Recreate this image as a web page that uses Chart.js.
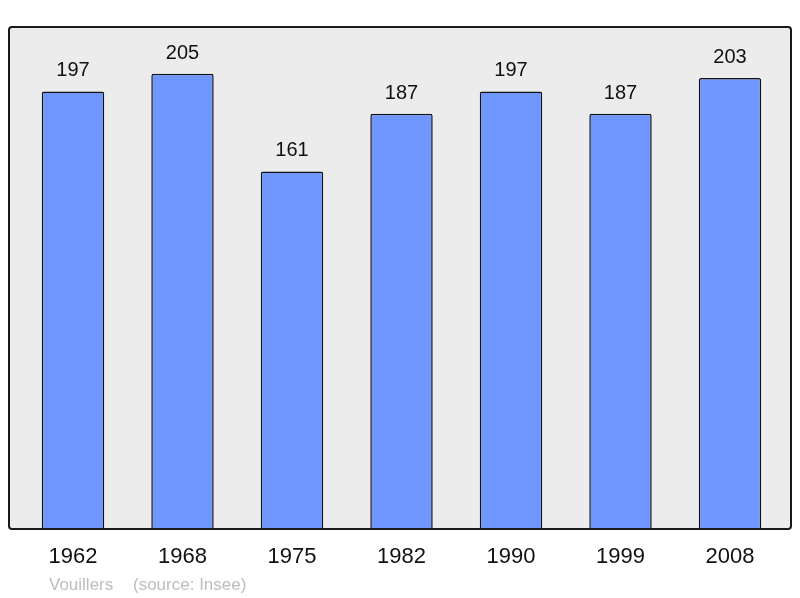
<!DOCTYPE html>
<html>
<head>
<meta charset="utf-8">
<script src="https://cdn.jsdelivr.net/npm/chart.js@4.4.1/dist/chart.umd.min.js"></script>
<style>
  html, body { margin: 0; padding: 0; background: #fff; }
  #wrap { width: 800px; height: 598px; }
</style>
</head>
<body>
<div id="wrap"><canvas id="popChart" width="800" height="598"></canvas></div>
<script>
// data
var years = ["1962", "1968", "1975", "1982", "1990", "1999", "2008"];
var population = [197, 205, 161, 187, 197, 187, 203];
var yMax = 226;
var footerName = "Vouillers";
var footerSource = "(source: Insee)";

// grey frame behind the bars + value labels + footer
var framePlugin = {
    id: 'frame',
    beforeDatasetsDraw: function (chart) {
        var a = chart.chartArea, ctx = chart.ctx;
        ctx.save();
        ctx.fillStyle = '#ececec';
        ctx.beginPath();
        ctx.roundRect(a.left - 9.25, a.top, a.right - a.left + 15.5, a.bottom - a.top, 3);
        ctx.fill();
        ctx.restore();
    },
    afterDatasetsDraw: function (chart) {
        var a = chart.chartArea, ctx = chart.ctx;
        ctx.save();
        ctx.strokeStyle = '#1a1a1a';
        ctx.lineWidth = 2;
        ctx.beginPath();
        ctx.roundRect(a.left - 9.25, a.top, a.right - a.left + 15.5, a.bottom - a.top, 3);
        ctx.stroke();

        // values above bars
        ctx.fillStyle = '#111';
        ctx.font = '20px "Liberation Sans", Arial, sans-serif';
        ctx.textAlign = 'center';
        ctx.textBaseline = 'alphabetic';
        chart.getDatasetMeta(0).data.forEach(function (bar, i) {
            ctx.fillText(String(population[i]), bar.x, bar.y - 15);
        });

        // footer
        ctx.fillStyle = '#bdbdbd';
        ctx.font = '17px "Liberation Sans", Arial, sans-serif';
        ctx.textAlign = 'left';
        ctx.fillText(footerName, 49, 590);
        ctx.fillText(footerSource, 133, 590);
        ctx.restore();
    }
};

var ctx = document.getElementById('popChart').getContext('2d');
var popChart = new Chart(ctx, {
    type: 'bar',
    data: {
        labels: years,
        datasets: [{
            data: population,
            backgroundColor: '#7096ff',
            borderColor: '#111',
            borderWidth: 1.5,
            borderRadius: 2,
            borderSkipped: 'start',
            barPercentage: 1,
            categoryPercentage: 0.57
        }]
    },
    options: {
        responsive: false,
        animation: false,
        layout: {
            padding: { left: 18.25, right: 15.25, top: 27, bottom: 12.5 }
        },
        plugins: {
            legend: { display: false },
            tooltip: { enabled: false }
        },
        scales: {
            x: {
                grid: { display: false, drawTicks: false },
                border: { display: false },
                ticks: {
                    color: '#111',
                    padding: 15,
                    font: { family: '"Liberation Sans", Arial, sans-serif', size: 22 }
                }
            },
            y: {
                display: false,
                min: 0,
                max: yMax
            }
        }
    },
    plugins: [framePlugin]
});
</script>
</body>
</html>
